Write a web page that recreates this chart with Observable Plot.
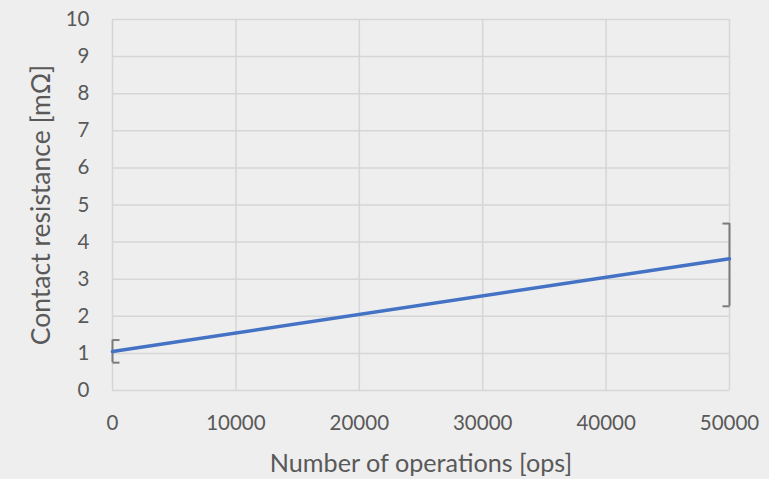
<!DOCTYPE html>
<html><head><meta charset="utf-8">
<script src="https://cdn.jsdelivr.net/npm/d3@7"></script>
<script src="https://cdn.jsdelivr.net/npm/@observablehq/plot@0.6"></script>
<style>
html,body{margin:0;padding:0;background:#eeeeee;}
</style></head>
<body><div id="chart"></div>
<script>
const operations = [0, 50000];
const resistance = [1.05, 3.55];
const errLow = [0.75, 2.27];
const errHigh = [1.36, 4.5];
const xTicks = [0, 10000, 20000, 30000, 40000, 50000];
const yTicks = [0,1,2,3,4,5,6,7,8,9,10];

const data = operations.map((o,i)=>({ops:o, r:resistance[i], lo:errLow[i], hi:errHigh[i], side: i===0 ? 1 : -1}));

const capRight = {draw(ctx){ ctx.moveTo(0,0); ctx.lineTo(7,0); }};
const capLeft = {draw(ctx){ ctx.moveTo(0,0); ctx.lineTo(-7,0); }};

const grey = "#595959", errC = "#7a7a7a";
const font = "Lato, 'Open Sans', sans-serif";
const chart = Plot.plot({
  width: 769, height: 479,
  marginLeft: 112, marginRight: 40, marginTop: 19, marginBottom: 89,
  style: {background: "#eeeeee", fontFamily: font, fontSize: "20.5px", color: grey},
  x: {domain: [0, 50000], ticks: xTicks, tickFormat: d => String(d), label: null},
  y: {domain: [0, 10], ticks: yTicks, label: null},
  marks: [
    Plot.ruleY(yTicks, {stroke: "#d6d6d6", strokeWidth: 1.5}),
    Plot.ruleX(xTicks, {stroke: "#d6d6d6", strokeWidth: 1.5}),
    Plot.axisX({ticks: xTicks, tickFormat: d => String(d), tickSize: 0, tickPadding: 25, fill: grey}),
    Plot.axisY({ticks: yTicks, tickSize: 0, tickPadding: 23, fill: grey}),
    Plot.text(["Number of operations [ops]"], {frameAnchor: "bottom", dy: 81, fontSize: 25.2, fill: grey}),
    Plot.text(["Contact resistance [mΩ]"], {frameAnchor: "left", textAnchor: "middle", dx: -71, rotate: -90, fontSize: 26.5, fill: grey}),
    Plot.ruleX(data, {x: "ops", y1: "lo", y2: "hi", stroke: errC, strokeWidth: 2}),
    Plot.dot(data.filter(d=>d.side>0), {x: "ops", y: "lo", symbol: capRight, stroke: errC, strokeWidth: 2, fill: "none"}),
    Plot.dot(data.filter(d=>d.side>0), {x: "ops", y: "hi", symbol: capRight, stroke: errC, strokeWidth: 2, fill: "none"}),
    Plot.dot(data.filter(d=>d.side<0), {x: "ops", y: "lo", symbol: capLeft, stroke: errC, strokeWidth: 2, fill: "none"}),
    Plot.dot(data.filter(d=>d.side<0), {x: "ops", y: "hi", symbol: capLeft, stroke: errC, strokeWidth: 2, fill: "none"}),
    Plot.line(data, {x: "ops", y: "r", stroke: "#4472C4", strokeWidth: 3.5})
  ]
});
document.getElementById("chart").appendChild(chart);
</script></body></html>
